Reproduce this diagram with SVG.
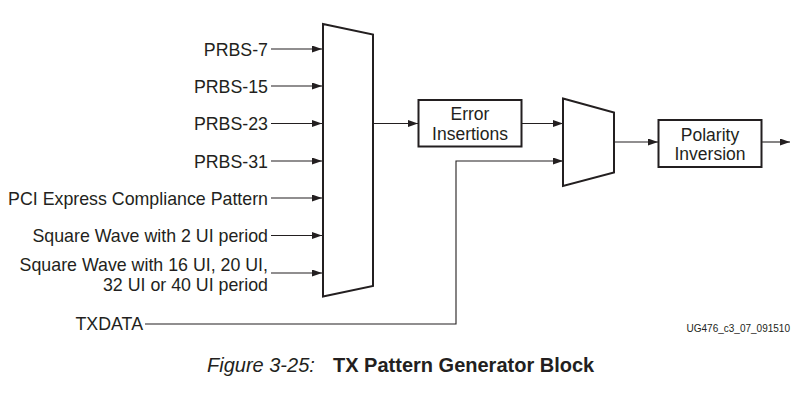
<svg xmlns="http://www.w3.org/2000/svg" width="809" height="414" viewBox="0 0 809 414">
<style>
text{font-family:"Liberation Sans",Arial,sans-serif;fill:#231f20}
.lbl{font-size:17.5px}
#inputs text{font-size:17.8px}
.r{text-anchor:end}
.c{text-anchor:middle}
.shape{fill:#fff;stroke:#231f20;stroke-width:2}
.wire{fill:none;stroke:#231f20;stroke-width:1.1}
</style>
<defs>
<marker id="ah" markerUnits="userSpaceOnUse" markerWidth="11" markerHeight="8" refX="10" refY="3.5" orient="auto">
<path d="M0,0 L10,3.5 L0,7 z" fill="#231f20"/>
</marker>
</defs>
<rect width="809" height="414" fill="#fff"/>
<g id="connectors">
<line class="wire" x1="271" y1="49" x2="322" y2="49" marker-end="url(#ah)"/>
<line class="wire" x1="271" y1="86" x2="322" y2="86" marker-end="url(#ah)"/>
<line class="wire" x1="271" y1="123.5" x2="322" y2="123.5" marker-end="url(#ah)"/>
<line class="wire" x1="271" y1="161" x2="322" y2="161" marker-end="url(#ah)"/>
<line class="wire" x1="271" y1="198" x2="322" y2="198" marker-end="url(#ah)"/>
<line class="wire" x1="271" y1="235.5" x2="322" y2="235.5" marker-end="url(#ah)"/>
<line class="wire" x1="271" y1="273" x2="322" y2="273" marker-end="url(#ah)"/>
<line class="wire" x1="373" y1="123.5" x2="418" y2="123.5" marker-end="url(#ah)"/>
<line class="wire" x1="522" y1="123.5" x2="563" y2="123.5" marker-end="url(#ah)"/>
<polyline class="wire" points="145,324 456,324 456,161 563,161" marker-end="url(#ah)"/>
<line class="wire" x1="614" y1="142" x2="658" y2="142" marker-end="url(#ah)"/>
<line class="wire" x1="762" y1="142" x2="790" y2="142" marker-end="url(#ah)"/>
</g>
<g id="mux1">
<polygon class="shape" points="323,24 373,34.5 373,286 323,296.5"/>
</g>
<g id="error-insertions">
<rect class="shape" x="418.5" y="100" width="103" height="46.5"/>
<text class="lbl c" x="470" y="120">Error</text>
<text class="lbl c" x="470" y="139.5">Insertions</text>
</g>
<g id="mux2">
<polygon class="shape" points="563,98.5 614,112.5 614,172.5 563,186"/>
</g>
<g id="polarity-inversion">
<rect class="shape" x="658.5" y="120" width="103" height="47"/>
<text class="lbl c" x="710" y="141">Polarity</text>
<text class="lbl c" x="710" y="160">Inversion</text>
</g>
<g id="inputs">
<text class="lbl r" x="268" y="55.5">PRBS-7</text>
<text class="lbl r" x="268" y="92.5">PRBS-15</text>
<text class="lbl r" x="268" y="130">PRBS-23</text>
<text class="lbl r" x="268" y="167.5">PRBS-31</text>
<text class="lbl r" x="268" y="204.5">PCI Express Compliance Pattern</text>
<text class="lbl r" x="268" y="242">Square Wave with 2 UI period</text>
<text class="lbl r" x="268" y="271">Square Wave with 16 UI, 20 UI,</text>
<text class="lbl r" x="268" y="291">32 UI or 40 UI period</text>
<text class="lbl r" x="143" y="330">TXDATA</text>
</g>
<text x="790" y="332" text-anchor="end" style="font-size:10px">UG476_c3_07_091510</text>
<text x="207" y="372" style="font-size:20px;font-style:italic">Figure 3-25:</text>
<text x="333" y="372" style="font-size:20px;font-weight:bold">TX Pattern Generator Block</text>
</svg>
